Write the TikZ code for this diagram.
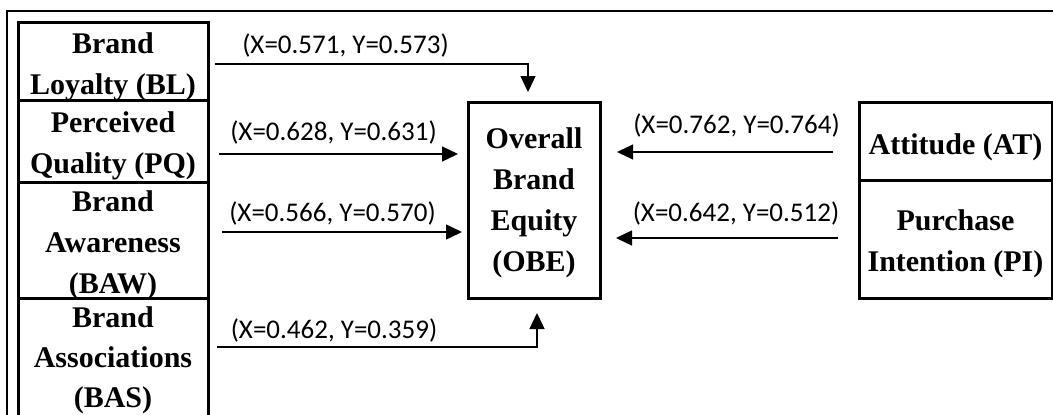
\documentclass[tikz,border=0pt]{standalone}
\usepackage{fontspec}
\setmainfont{Liberation Serif}
\newfontfamily\labfont{Carlito}
\usetikzlibrary{arrows.meta}
\tikzset{
  box/.style={draw=black, line width=3pt, minimum width=#1, inner sep=0pt, outer sep=0pt},
  boxtext/.style={align=center, inner sep=0pt, font=\bfseries\fontsize{30}{41}\selectfont},
  lab/.style={inner sep=0pt, font=\labfont\fontsize{27}{30}\selectfont},
  arr/.style={line width=1.3pt, -{Triangle[length=16pt,width=15pt]}},
}
\begin{document}
\begin{tikzpicture}[x=1pt,y=-1pt]
\useasboundingbox (0,0) rectangle (1053,415);
% outer frame
\coordinate (fbl) at (7,420);
\coordinate (ftl) at (7,11);
\coordinate (ftr) at (1060,11);
\draw[line width=2pt] (fbl) -- (ftl) -- (ftr);
% left boxes
\node[box=190pt, minimum height=78pt] (bl) at (113,61) {};
\node[box=190pt, minimum height=82pt] (pq) at (113,141) {};
\node[box=190pt, minimum height=116pt] (baw) at (113,240) {};
\node[box=190pt, minimum height=132pt] (bas) at (113,364) {};
% centre box
\node[box=132pt, minimum height=196pt] (obe) at (534,200) {};
% right boxes
\node[box=193pt, minimum height=78pt] (at) at (955.5,141) {};
\node[box=193pt, minimum height=118pt] (pi) at (955.5,239) {};
% texts
\node[boxtext] (tbl) at (113,66.5) {Brand\\Loyalty (BL)};
\node[boxtext] (tpq) at (113,146) {Perceived\\Quality (PQ)};
\node[boxtext] (tbaw) at (113,245.5) {Brand\\Awareness\\(BAW)};
\node[boxtext, font=\bfseries\fontsize{30}{40}\selectfont] (tbas) at (113,360.5) {Brand\\Associations\\(BAS)};
\node[boxtext] (tobe) at (534,203) {Overall\\Brand\\Equity\\(OBE)};
\node[boxtext] (tat) at (955.5,147) {Attitude (AT)};
\node[boxtext] (tpi) at (955.5,244) {Purchase\\Intention (PI)};
% connectors
\draw[arr, shorten <=7pt, shorten >=10pt] ([yshift=-3pt]bl.east) -| ([xshift=-6pt]obe.north);
\draw[arr, shorten <=11pt, shorten >=10pt] ([yshift=-13pt]pq.east) -- ([yshift=-13pt]pq.east -| obe.west);
\draw[arr, shorten <=14pt, shorten >=6pt] ([yshift=8pt]baw.east) -- ([yshift=8pt]baw.east -| obe.west);
\draw[arr, shorten <=9pt, shorten >=15pt] ([yshift=17pt]bas.east) -| ([xshift=3pt]obe.south);
\draw[arr, shorten <=26pt, shorten >=17pt] ([yshift=-11pt]at.west) -- ([yshift=-11pt]at.west -| obe.east);
\draw[arr, shorten <=21pt, shorten >=16pt] ([yshift=1pt]pi.west) -- ([yshift=1pt]pi.west -| obe.east);
% labels
\node[lab] (lbl) at (345.5,45) {(X=0.571, Y=0.573)};
\node[lab] (lpq) at (333.5,132) {(X=0.628, Y=0.631)};
\node[lab] (lbaw) at (332.5,213) {(X=0.566, Y=0.570)};
\node[lab] (lbas) at (334,330) {(X=0.462, Y=0.359)};
\node[lab] (lat) at (736.5,125) {(X=0.762, Y=0.764)};
\node[lab] (lpi) at (736,213) {(X=0.642, Y=0.512)};
\end{tikzpicture}
\end{document}
